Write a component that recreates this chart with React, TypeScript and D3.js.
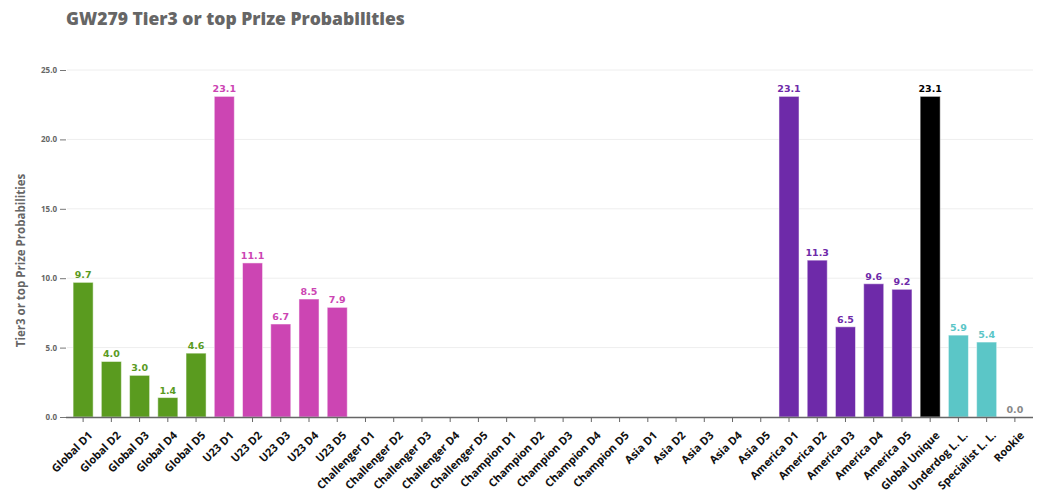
import { useEffect, useRef } from "react"
import * as d3 from "d3"

const categories = [
  "Global D1", "Global D2", "Global D3", "Global D4", "Global D5",
  "U23 D1", "U23 D2", "U23 D3", "U23 D4", "U23 D5",
  "Challenger D1", "Challenger D2", "Challenger D3", "Challenger D4", "Challenger D5",
  "Champion D1", "Champion D2", "Champion D3", "Champion D4", "Champion D5",
  "Asia D1", "Asia D2", "Asia D3", "Asia D4", "Asia D5",
  "America D1", "America D2", "America D3", "America D4", "America D5",
  "Global Unique", "Underdog L. L.", "Specialist L. L.", "Rookie",
]

// null = no bar / no label drawn
const values: (number | null)[] = [
  9.7, 4.0, 3.0, 1.4, 4.6,
  23.1, 11.1, 6.7, 8.5, 7.9,
  null, null, null, null, null,
  null, null, null, null, null,
  null, null, null, null, null,
  23.1, 11.3, 6.5, 9.6, 9.2,
  23.1, 5.9, 5.4, 0.0,
]

const groups = [
  "global", "global", "global", "global", "global",
  "u23", "u23", "u23", "u23", "u23",
  "challenger", "challenger", "challenger", "challenger", "challenger",
  "champion", "champion", "champion", "champion", "champion",
  "asia", "asia", "asia", "asia", "asia",
  "america", "america", "america", "america", "america",
  "unique", "league", "league", "rookie",
]

const yTicks = [0, 5, 10, 15, 20, 25]

const groupColor: Record<string, string> = {
  global: "#5a9b1f",
  u23: "#cc45b3",
  challenger: "#999",
  champion: "#999",
  asia: "#999",
  america: "#6e2aa9",
  unique: "#000000",
  league: "#5bc6c7",
  rookie: "#888888",
}

const FONT = "'Open Sans', 'DejaVu Sans', sans-serif"
const WIDE = "'DejaVu Sans', sans-serif"

export default function App() {
  const ref = useRef<SVGSVGElement | null>(null)

  useEffect(() => {
    const width = 1050
    const height = 492
    const marginLeft = 69
    const marginRight = 21
    const marginTop = 70
    const baseY = 417

    const svg = d3.select(ref.current)
    svg.selectAll("*").remove()
    svg.attr("width", width).attr("height", height)
      .style("font-family", FONT)

    const data = categories.map((c, i) => ({ name: c, value: values[i], group: groups[i] }))

    const x = d3.scaleBand()
      .domain(categories)
      .range([marginLeft, width - marginRight])
      .paddingInner(0.29)
      .paddingOuter(0.145)

    const y = d3.scaleLinear()
      .domain([0, 25])
      .range([baseY, marginTop])

    // title
    svg.append("text")
      .attr("x", 66)
      .attr("y", 25)
      .attr("fill", "#666")
      .attr("font-size", 17.5)
      .attr("font-weight", 800)
      .text("GW279 Tier3 or top Prize Probabilities")

    // grid
    svg.append("g")
      .selectAll("line")
      .data(yTicks.filter(d => d > 0))
      .join("line")
        .attr("x1", 67)
        .attr("x2", 1033)
        .attr("y1", d => y(d))
        .attr("y2", d => y(d))
        .attr("stroke", "#eeeeee")
        .attr("stroke-width", 1)

    // y axis
    svg.append("g")
        .attr("transform", `translate(66,0)`)
      .call(d3.axisLeft(y).tickValues(yTicks).tickFormat(d3.format(".1f")).tickSize(6).tickPadding(3))
      .call(g => g.select(".domain").remove())
      .call(g => g.selectAll(".tick line").attr("stroke", "#777"))
      .call(g => g.selectAll(".tick text")
        .attr("fill", "#666")
        .attr("font-size", 8)
        .attr("font-weight", 700)
        .attr("font-family", FONT))

    // y axis title
    svg.append("text")
        .attr("transform", `translate(25,${(marginTop + baseY) / 2 + 17})rotate(-90)`)
        .attr("text-anchor", "middle")
        .attr("fill", "#666")
        .attr("font-size", 11.5)
        .attr("font-weight", 700)
        .text("Tier3 or top Prize Probabilities")

    // bars
    svg.append("g")
      .selectAll("rect")
      .data(data.filter(d => d.value !== null && (d.value as number) > 0))
      .join("rect")
        .attr("x", d => x(d.name) as number)
        .attr("y", d => y(d.value as number))
        .attr("width", x.bandwidth())
        .attr("height", d => baseY - y(d.value as number))
        .attr("fill", d => groupColor[d.group])
        .attr("stroke", "rgba(255,255,255,0.5)")
        .attr("stroke-width", 1)

    // value labels
    svg.append("g")
        .attr("text-anchor", "middle")
      .selectAll("text")
      .data(data.filter(d => d.value !== null))
      .join("text")
        .attr("x", d => (x(d.name) as number) + x.bandwidth() / 2)
        .attr("y", d => y(d.value as number) - 4)
        .attr("fill", d => groupColor[d.group])
        .attr("font-family", WIDE)
        .attr("font-size", 9.5)
        .attr("font-weight", 700)
        .text(d => d3.format(".1f")(d.value as number))

    // x axis
    svg.append("g")
        .attr("transform", `translate(0,${baseY})`)
      .call(d3.axisBottom(x).tickSize(5).tickSizeOuter(0).tickPadding(4))
      .call(g => g.select(".domain").attr("d", `M66,0.5H1033`).attr("stroke", "#666").attr("stroke-width", 1.5))
      .call(g => g.selectAll(".tick line").attr("stroke", "#666"))
      .call(g => g.selectAll(".tick text")
        .attr("fill", "#111")
        .attr("font-size", 11)
        .attr("font-weight", 700)
        .attr("font-family", FONT)
        .attr("text-anchor", "end")
        .attr("dy", "0.35em")
        .attr("transform", "translate(1,10)rotate(-45)"))
  }, [])

  return (
    <svg ref={ref} style={{ position: "absolute", left: 0, top: 0, background: "#fff" }} />
  )
}
